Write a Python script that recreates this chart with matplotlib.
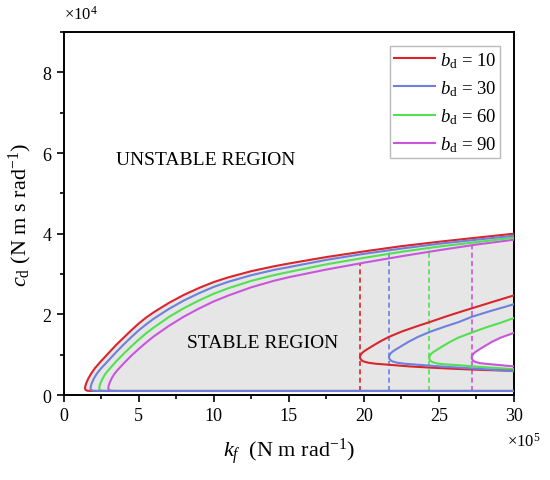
import matplotlib
matplotlib.use("Agg")
import matplotlib.pyplot as plt
from matplotlib.ticker import MultipleLocator

plt.rcParams['font.family'] = ['Liberation Serif', 'DejaVu Serif']
plt.rcParams['mathtext.fontset'] = 'custom'
plt.rcParams['mathtext.rm'] = 'Liberation Serif'
plt.rcParams['mathtext.it'] = 'Liberation Serif:italic'

# k_f in units of 1e5, c_d in units of 1e4
labels = ["10", "30", "60", "90"]
colors = ['#d8262c', '#6e80dc', '#52e052', '#c955dd']

# outer boundary: bottom line back to the curl at the tip, then the upper branch
red_out_x = [30, 2.0, 1.6, 1.47, 1.43, 1.45, 1.52, 1.64, 1.82, 2.1, 2.5, 3, 3.5, 4, 4.5, 5, 5.5, 6, 7, 8, 9, 10,
             11, 12.5, 14, 15, 17.5, 20, 22.5, 25, 27.5, 30]
red_out_y = [0.1, 0.1, 0.105, 0.125, 0.16, 0.22, 0.3, 0.4, 0.52, 0.67, 0.84, 1.04, 1.24, 1.42, 1.6, 1.77, 1.92,
             2.05, 2.28, 2.48, 2.65, 2.80, 2.92, 3.07, 3.19, 3.26, 3.42, 3.56, 3.69, 3.80, 3.90, 4.0]
blue_out_x = [30, 2.35, 1.97, 1.84, 1.8, 1.82, 1.89, 2.01, 2.2, 2.5, 3, 3.5, 4, 4.5, 5, 5.5, 6, 7, 8, 9, 10,
              11, 12.5, 14, 15, 17.5, 20, 22.5, 25, 27.5, 30]
blue_out_y = [0.1, 0.1, 0.105, 0.125, 0.16, 0.22, 0.3, 0.4, 0.52, 0.66, 0.86, 1.06, 1.25, 1.43, 1.6, 1.75, 1.89,
              2.13, 2.34, 2.52, 2.68, 2.81, 2.97, 3.10, 3.17, 3.35, 3.50, 3.63, 3.75, 3.85, 3.95]
green_out_x = [30, 2.95, 2.55, 2.42, 2.38, 2.4, 2.47, 2.59, 2.78, 3, 3.5, 4, 4.5, 5, 5.5, 6, 7, 8, 9, 10,
               11, 12.5, 14, 15, 17.5, 20, 22.5, 25, 27.5, 30]
green_out_y = [0.1, 0.1, 0.105, 0.125, 0.16, 0.22, 0.3, 0.4, 0.52, 0.62, 0.83, 1.02, 1.2, 1.37, 1.53, 1.67,
               1.93, 2.15, 2.34, 2.51, 2.65, 2.83, 2.97, 3.05, 3.24, 3.40, 3.55, 3.68, 3.79, 3.90]
mag_out_x = [30, 3.55, 3.15, 3.02, 2.98, 3.0, 3.07, 3.19, 3.38, 3.6, 4, 4.5, 5, 5.5, 6, 7, 8, 9, 10,
             11, 12.5, 14, 15, 17.5, 20, 22.5, 25, 27.5, 30]
mag_out_y = [0.1, 0.1, 0.105, 0.125, 0.16, 0.22, 0.3, 0.4, 0.52, 0.62, 0.78, 0.97, 1.14, 1.3, 1.45, 1.71,
             1.94, 2.14, 2.32, 2.47, 2.67, 2.83, 2.92, 3.11, 3.28, 3.44, 3.59, 3.73, 3.85]

# inner branches: upper branch from x=30 to the nose, then the lower branch back to x=30
red_in_x = [30, 28.5, 27.2, 26.5, 25.5, 24.4, 23.5, 22.5, 21.67, 21.1, 20.6, 20.25, 20.0, 19.85, 19.77, 19.74,
            19.77, 19.85, 20.0, 20.3, 20.8, 21.67, 23, 24.4, 26, 28, 30]
red_in_y = [2.47, 2.30, 2.15, 2.07, 1.95, 1.81, 1.70, 1.57, 1.44, 1.33, 1.22, 1.14, 1.08, 1.03, 0.98, 0.94,
            0.90, 0.86, 0.83, 0.80, 0.775, 0.75, 0.71, 0.68, 0.65, 0.62, 0.60]
blue_in_x = [30, 28.5, 27.2, 26.33, 25.43, 24.43, 23.6, 23.03, 22.53, 22.18, 21.93, 21.78, 21.70, 21.67,
             21.70, 21.78, 21.93, 22.23, 22.73, 23.6, 25, 26.3, 28, 30]
blue_in_y = [2.25, 2.09, 1.94, 1.81, 1.70, 1.57, 1.44, 1.33, 1.22, 1.14, 1.08, 1.03, 0.98, 0.94,
             0.90, 0.86, 0.83, 0.80, 0.775, 0.75, 0.71, 0.68, 0.64, 0.59]
green_in_x = [30, 29.1, 28.1, 27.2, 26.28, 25.71, 25.21, 24.86, 24.61, 24.46, 24.38, 24.35,
              24.38, 24.46, 24.61, 24.91, 25.41, 26.28, 27.6, 28.8, 30]
green_in_y = [1.91, 1.79, 1.67, 1.55, 1.42, 1.31, 1.20, 1.12, 1.06, 1.01, 0.96, 0.92,
              0.88, 0.84, 0.81, 0.78, 0.76, 0.74, 0.70, 0.67, 0.64]
mag_in_x = [30, 29.1, 28.54, 28.04, 27.69, 27.44, 27.29, 27.21, 27.18,
            27.21, 27.29, 27.44, 27.74, 28.24, 29.1, 30]
mag_in_y = [1.54, 1.42, 1.32, 1.21, 1.13, 1.07, 1.02, 0.97, 0.93,
            0.89, 0.85, 0.82, 0.79, 0.77, 0.74, 0.71]

# vertical dashed lines: position and top
dash_x = [19.74, 21.67, 24.35, 27.18]
dash_top = [3.26, 3.59, 3.65, 3.72]
dash_bottom = 0.1

outers = [(red_out_x, red_out_y), (blue_out_x, blue_out_y),
          (green_out_x, green_out_y), (mag_out_x, mag_out_y)]
inners = [(red_in_x, red_in_y), (blue_in_x, blue_in_y),
          (green_in_x, green_in_y), (mag_in_x, mag_in_y)]

fig = plt.figure(figsize=(5.5, 4.81), dpi=100)
ax = fig.add_axes([0.1155, 0.1767, 0.819, 0.7547])

# stable region shading, hole inside the bd=90 inner curve
ax.fill(red_out_x, red_out_y, color='#e6e6e6', lw=0, zorder=1)
ax.fill(mag_in_x, mag_in_y, color='white', lw=0, zorder=1.5)

zord = [3, 4, 2.8, 2.6]
for i in range(4):
    ox, oy = outers[i]
    ix, iy = inners[i]
    ax.plot(ox, oy, color=colors[i], lw=1.5, zorder=zord[i], solid_joinstyle='round',
            label=r'$b_{\rm d}$ = ' + labels[i])
    ax.plot(ix, iy, color=colors[i], lw=1.5, zorder=zord[i], solid_joinstyle='round')
    ax.plot([dash_x[i], dash_x[i]], [dash_bottom, dash_top[i]], color=colors[i],
            lw=1.2, ls=(0, (3, 2)), zorder=2.5)

ax.set_xlim(0, 30)
ax.set_ylim(0, 9)
ax.xaxis.set_major_locator(MultipleLocator(5))
ax.xaxis.set_minor_locator(MultipleLocator(2.5))
ax.yaxis.set_major_locator(MultipleLocator(2))
ax.yaxis.set_minor_locator(MultipleLocator(1))
ax.tick_params(which='both', direction='out', labelsize=13, width=1.2)
ax.tick_params(which='major', length=5)
ax.tick_params(which='minor', length=3)
for s in ax.spines.values():
    s.set_linewidth(1.4)

ax.set_xlabel(r'$k_f$  (N m rad$^{\mathrm{-1}}$)', fontsize=16, labelpad=8)
ax.set_ylabel(r'$c_{\rm d}$ (N m s rad$^{\mathrm{-1}}$)', fontsize=16, labelpad=6)

ax.text(0.0, 1.025, r'$\times$10$^{4}$', transform=ax.transAxes, fontsize=12,
        ha='left', va='bottom')
ax.text(0.985, -0.1, r'$\times$10$^{5}$', transform=ax.transAxes, fontsize=12,
        ha='left', va='top')

ax.text(3.5, 5.83, 'UNSTABLE REGION', fontsize=14, va='center')
ax.text(8.2, 1.3, 'STABLE REGION', fontsize=14, va='center', zorder=5)

leg = ax.legend(loc='upper right', fontsize=13.5, frameon=True, fancybox=False,
                handlelength=2.2, handletextpad=0.25, labelspacing=0.45,
                borderaxespad=0.75, borderpad=0.2)
leg.get_frame().set_edgecolor('#aaaaaa')
leg.get_frame().set_linewidth(1.0)

fig.savefig('out.png', dpi=100)
